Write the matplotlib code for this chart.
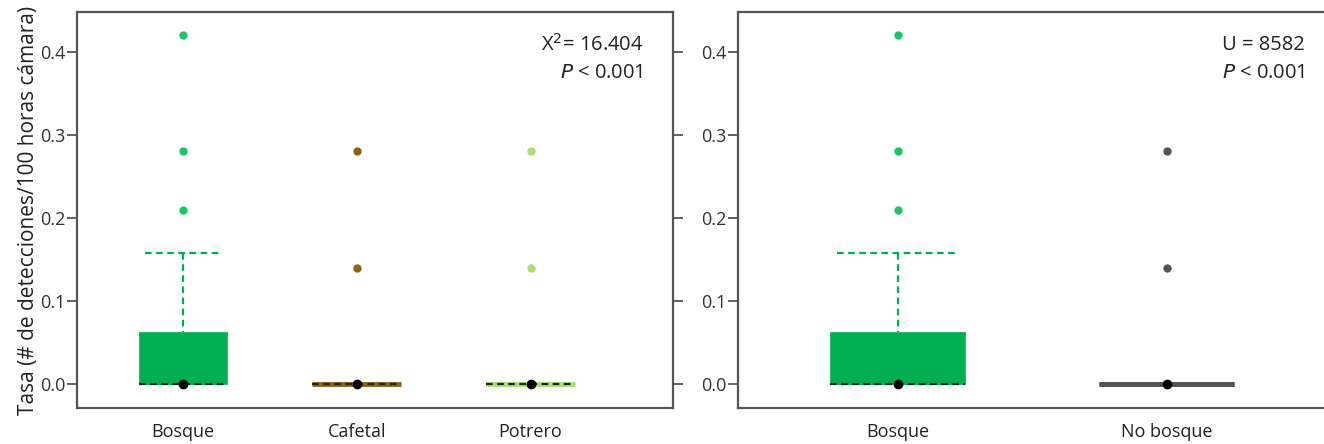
import matplotlib
matplotlib.use("Agg")
from matplotlib import pyplot as plt

plt.rcParams['font.family'] = ['Open Sans', 'DejaVu Sans']

# panel 1: habitat types
hab_labels = ['Bosque', 'Cafetal', 'Potrero']
hab_q1 = [0.0, 0.0, 0.0]
hab_med = [0.0, 0.0, 0.0]
hab_q3 = [0.063, 0.0, 0.0]
hab_whislo = [0.0, 0.0, 0.0]
hab_whishi = [0.158, 0.0, 0.0]
hab_fliers = [[0.21, 0.28, 0.42], [0.14, 0.28], [0.14, 0.28]]
hab_colors = ['#00b050', '#8a6414', '#a8e070']
hab_flier_colors = ['#1cc463', '#8a6414', '#a8e070']

# panel 2: forest vs non forest
cov_labels = ['Bosque', 'No bosque']
cov_q1 = [0.0, 0.0]
cov_med = [0.0, 0.0]
cov_q3 = [0.063, 0.0]
cov_whislo = [0.0, 0.0]
cov_whishi = [0.158, 0.0]
cov_fliers = [[0.21, 0.28, 0.42], [0.14, 0.28]]
cov_colors = ['#00b050', '#555555']
cov_flier_colors = ['#1cc463', '#555555']

spine_col = '#555555'


def make_stats(labels, q1, med, q3, wlo, whi, fliers):
    out = []
    for i in range(len(labels)):
        out.append(dict(label=labels[i], q1=q1[i], med=med[i], q3=q3[i],
                        whislo=wlo[i], whishi=whi[i], fliers=fliers[i]))
    return out


def draw_panel(ax, stats, colors, flier_colors, width, capw, xlim, dashed_med):
    pos = list(range(1, len(stats) + 1))
    for i, st in enumerate(stats):
        c = colors[i]
        flat = st['q3'] == st['q1']
        ax.bxp([st], positions=[pos[i]], widths=width, patch_artist=True,
               showfliers=True, capwidths=capw,
               boxprops=dict(facecolor=c, edgecolor=c, linewidth=3.5 if flat else 0.5),
               whiskerprops=dict(color=c, linestyle=(2.5, (3, 2)), linewidth=1.6),
               capprops=dict(color=c, linestyle=(0, (3, 2)), linewidth=1.6),
               medianprops=dict(color='#222222' if dashed_med[i] else c,
                                linestyle=(0, (3, 2)) if dashed_med[i] else '-',
                                linewidth=1.6 if dashed_med[i] else 3.5),
               flierprops=dict(marker='o', markersize=6, markerfacecolor=flier_colors[i],
                               markeredgecolor='none'))
        ax.plot(pos[i], st['med'], 'o', color='black', markersize=6, zorder=5)
    ax.set_xlim(*xlim)
    ax.set_ylim(-0.029, 0.448)
    ax.set_yticks([0.0, 0.1, 0.2, 0.3, 0.4])
    ax.set_yticklabels(['0.0', '0.1', '0.2', '0.3', '0.4'])
    ax.set_xticks(pos)
    ax.set_xticklabels([s['label'] for s in stats])
    ax.tick_params(axis='x', length=0, pad=11, labelsize=13, colors='#222222')
    ax.tick_params(axis='y', length=7, width=1.3, color=spine_col, pad=1,
                   labelsize=13, labelcolor='#333333')
    for sp in ax.spines.values():
        sp.set_color(spine_col)
        sp.set_linewidth(1.6)


fig = plt.figure(figsize=(13.24, 4.44), dpi=100)
ax1 = fig.add_axes([77 / 1324, 36 / 444, 596 / 1324, 396 / 444])
ax2 = fig.add_axes([738 / 1324, 36 / 444, 590 / 1324, 396 / 444])

draw_panel(ax1, make_stats(hab_labels, hab_q1, hab_med, hab_q3, hab_whislo, hab_whishi, hab_fliers),
           hab_colors, hab_flier_colors, 0.51, 0.44, (0.39, 3.82), [True, True, True])
draw_panel(ax2, make_stats(cov_labels, cov_q1, cov_med, cov_q3, cov_whislo, cov_whishi, cov_fliers),
           cov_colors, cov_flier_colors, 0.5, 0.45, (0.407, 2.6), [True, False])

ax1.tick_params(axis='y', right=True, labelright=False)
ax1.set_ylabel('Tasa (# de detecciones/100 horas cámara)', fontsize=15, color='#222222', labelpad=1)

ax1.text(0.95, 0.917, r'X$^2$= 16.404', transform=ax1.transAxes, ha='right', va='center',
         fontsize=14.5, color='#222222')
ax1.text(0.95, 0.846, r'$P$ < 0.001', transform=ax1.transAxes, ha='right', va='center',
         fontsize=14.5, color='#222222')
ax2.text(0.961, 0.917, 'U = 8582', transform=ax2.transAxes, ha='right', va='center',
         fontsize=14.5, color='#222222')
ax2.text(0.961, 0.846, r'$P$ < 0.001', transform=ax2.transAxes, ha='right', va='center',
         fontsize=14.5, color='#222222')

fig.savefig('out.png', dpi=100)
plt.close(fig)
